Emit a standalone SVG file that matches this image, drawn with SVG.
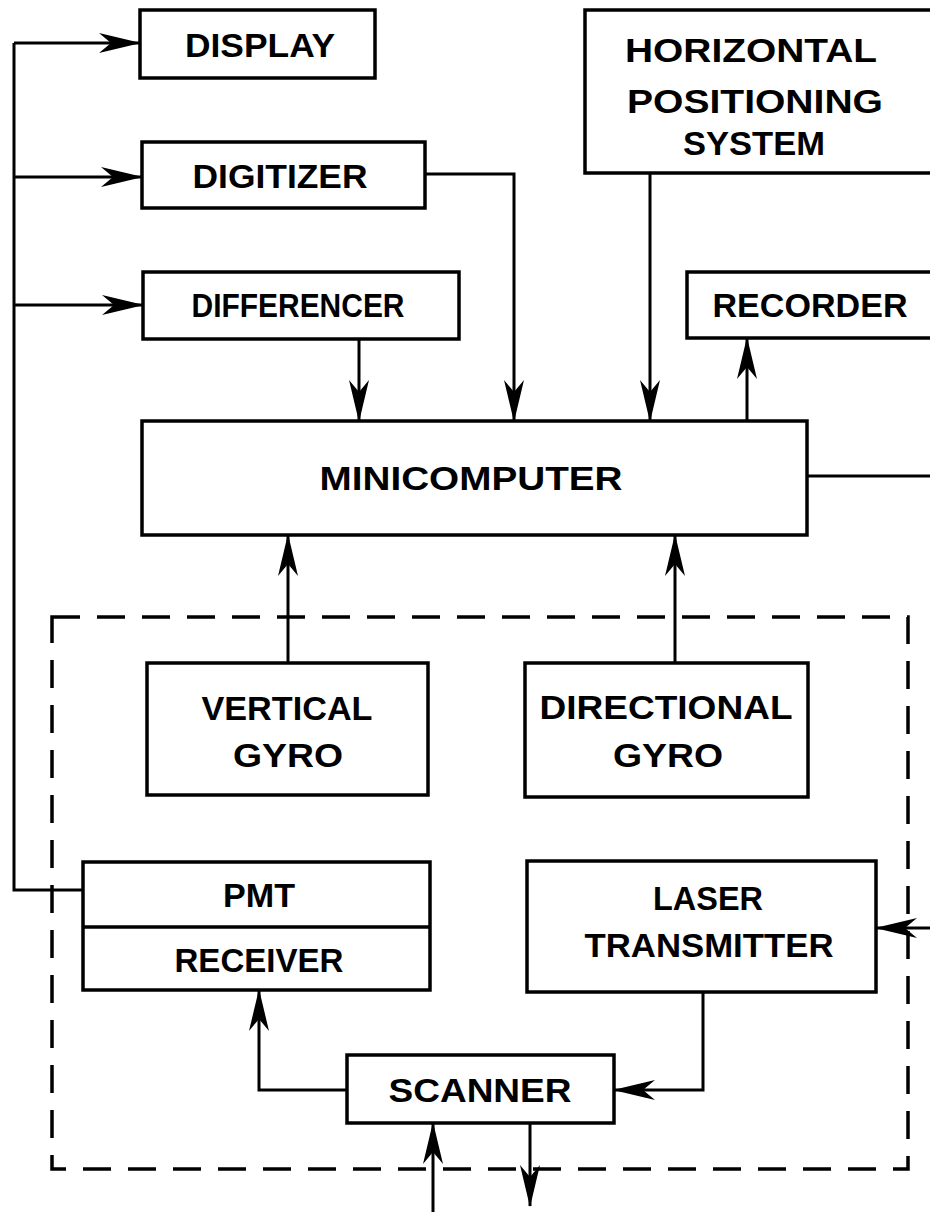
<svg xmlns="http://www.w3.org/2000/svg" width="930" height="1212" viewBox="0 0 930 1212">
<defs>
<style>
.box{fill:#fff;stroke:#000;stroke-width:3.5;}
.ln{fill:none;stroke:#000;stroke-width:3;}
.arr{fill:none;stroke:#000;stroke-width:3;marker-end:url(#ah);}
.dash{fill:none;stroke:#000;stroke-width:3.5;stroke-dasharray:28 17;}
text{font-family:"Liberation Sans",Arial,sans-serif;font-weight:bold;font-size:34px;fill:#000;text-anchor:middle;}
</style>
<marker id="ah" markerUnits="userSpaceOnUse" viewBox="0 0 42 22" refX="41" refY="11" markerWidth="42" markerHeight="22" orient="auto">
<path d="M0,1 L42,11 L0,21 L12,11 Z" fill="#000"/>
</marker>
</defs>
<rect width="930" height="1212" fill="#fff"/>

<g id="connectors">
<path class="ln" d="M14,43 V890 H83"/>
<path class="arr" d="M14,43 H140"/>
<path class="arr" d="M14,177 H142"/>
<path class="arr" d="M14,305 H143"/>
<path class="arr" d="M425,174 H514 V421"/>
<path class="arr" d="M359,340 V421"/>
<path class="arr" d="M650,173 V421"/>
<path class="arr" d="M747,421 V338"/>
<path class="ln" d="M807,476 H932"/>
<path class="arr" d="M288,663 V535"/>
<path class="arr" d="M675,663 V535"/>
<path class="arr" d="M932,928 H876"/>
<path class="arr" d="M703,992 V1090 H614"/>
<path class="arr" d="M347,1090 H259 V990"/>
<path class="arr" d="M433,1214 V1123"/>
<path class="arr" d="M530,1123 V1206"/>
</g>

<g id="boundary">
<rect class="dash" x="52" y="617" width="856" height="552"/>
</g>

<g id="display">
<rect class="box" x="140" y="10" width="235" height="68"/>
<text x="260" y="57" textLength="150" lengthAdjust="spacingAndGlyphs">DISPLAY</text>
</g>
<g id="digitizer">
<rect class="box" x="142" y="142" width="283" height="66"/>
<text x="280" y="188" textLength="175" lengthAdjust="spacingAndGlyphs">DIGITIZER</text>
</g>
<g id="differencer">
<rect class="box" x="143" y="272" width="316" height="67"/>
<text x="298" y="317" textLength="213" lengthAdjust="spacingAndGlyphs">DIFFERENCER</text>
</g>
<g id="hps">
<rect class="box" x="585" y="10" width="360" height="163"/>
<text x="751" y="62" textLength="252" lengthAdjust="spacingAndGlyphs">HORIZONTAL</text>
<text x="755" y="113" textLength="256" lengthAdjust="spacingAndGlyphs">POSITIONING</text>
<text x="754" y="155" textLength="142" lengthAdjust="spacingAndGlyphs">SYSTEM</text>
</g>
<g id="recorder">
<rect class="box" x="687" y="272" width="260" height="66"/>
<text x="810" y="317" textLength="195" lengthAdjust="spacingAndGlyphs">RECORDER</text>
</g>
<g id="minicomputer">
<rect class="box" x="142" y="421" width="665" height="114"/>
<text x="471" y="490" textLength="303" lengthAdjust="spacingAndGlyphs">MINICOMPUTER</text>
</g>
<g id="vertical-gyro">
<rect class="box" x="147" y="663" width="281" height="132"/>
<text x="287" y="720" textLength="171" lengthAdjust="spacingAndGlyphs">VERTICAL</text>
<text x="288" y="767" textLength="110" lengthAdjust="spacingAndGlyphs">GYRO</text>
</g>
<g id="directional-gyro">
<rect class="box" x="525" y="663" width="283" height="134"/>
<text x="666" y="719" textLength="253" lengthAdjust="spacingAndGlyphs">DIRECTIONAL</text>
<text x="668" y="767" textLength="110" lengthAdjust="spacingAndGlyphs">GYRO</text>
</g>
<g id="pmt-receiver">
<rect class="box" x="83" y="862" width="347" height="128"/>
<line x1="83" y1="927" x2="430" y2="927" stroke="#000" stroke-width="3.5"/>
<text x="259" y="907" textLength="72" lengthAdjust="spacingAndGlyphs">PMT</text>
<text x="259" y="972" textLength="169" lengthAdjust="spacingAndGlyphs">RECEIVER</text>
</g>
<g id="laser-transmitter">
<rect class="box" x="527" y="861" width="349" height="131"/>
<text x="708" y="910" textLength="110" lengthAdjust="spacingAndGlyphs">LASER</text>
<text x="709" y="957" textLength="249" lengthAdjust="spacingAndGlyphs">TRANSMITTER</text>
</g>
<g id="scanner">
<rect class="box" x="347" y="1055" width="267" height="68"/>
<text x="480" y="1102" textLength="183" lengthAdjust="spacingAndGlyphs">SCANNER</text>
</g>
</svg>
